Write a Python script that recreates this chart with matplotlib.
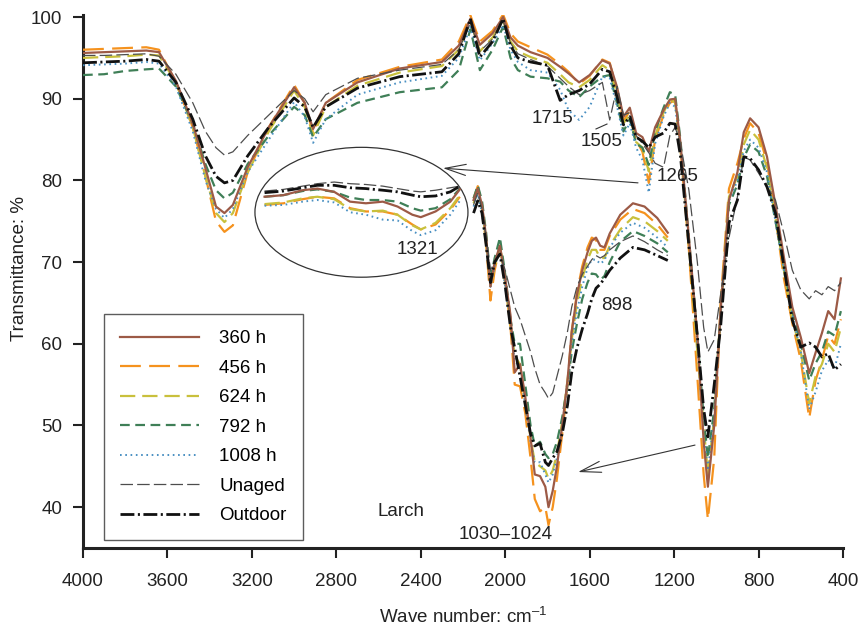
import matplotlib
matplotlib.use("Agg")
import matplotlib.pyplot as plt
from matplotlib.patches import Ellipse

plt.rcParams['font.family'] = ['Liberation Sans', 'DejaVu Sans']
plt.rcParams['lines.scale_dashes'] = False
plt.rcParams['mathtext.fontset'] = 'custom'
plt.rcParams['mathtext.rm'] = 'Liberation Sans'
plt.rcParams['mathtext.default'] = 'regular'

# ---------------- data ----------------
series_labels = ["360 h", "456 h", "624 h", "792 h", "1008 h", "Unaged", "Outdoor"]

wn_main = [4000, 3900, 3800, 3700, 3640, 3560, 3480, 3420, 3370, 3330, 3290, 3220, 3120,
           3000, 2950, 2910, 2850, 2700, 2500, 2300, 2220, 2165, 2120, 2060, 2010, 1975,
           1940, 1880, 1800, 1740, 1700, 1650, 1600, 1540, 1505, 1470, 1440, 1410, 1380,
           1350, 1320, 1290, 1250, 1220, 1195, 1170, 1130, 1090, 1060, 1040, 1010, 980,
           940, 900, 870, 840, 800, 760, 720, 680, 640, 600, 560, 530, 500, 470, 440, 410]

t360 = [95.6, 95.7, 95.8, 95.9, 95.7, 92.2, 87.0, 81.5, 76.8, 76.0, 77.0, 81.6, 86.5, 91.4,
        89.5, 86.3, 89.5, 92.0, 93.7, 94.5, 96.5, 99.8, 96.6, 98.0, 100.0, 97.5, 96.5, 95.7,
        95.0, 93.9, 93.1, 92.0, 92.9, 94.7, 94.3, 91.4, 87.8, 88.9, 85.8, 85.3, 83.5, 86.5,
        88.6, 89.9, 90.0, 84.6, 73.0, 61.0, 48.0, 42.5, 50.0, 64.0, 77.6, 81.0, 85.9, 87.6,
        86.5, 82.9, 77.0, 70.6, 64.5, 60.8, 56.4, 58.9, 61.3, 64.0, 63.0, 68.0]
t456 = [96.0, 96.1, 96.2, 96.3, 96.0, 92.0, 86.5, 80.5, 75.0, 73.7, 74.5, 81.0, 86.5, 91.7,
        89.5, 85.8, 89.5, 92.3, 93.9, 94.8, 97.0, 100.2, 97.0, 98.3, 100.3, 98.0, 97.0, 96.3,
        95.4, 94.2, 93.3, 91.8, 92.8, 94.8, 94.4, 91.0, 87.3, 88.5, 85.0, 83.5, 79.7, 85.0,
        88.0, 89.5, 89.8, 84.0, 71.5, 56.0, 44.0, 38.5, 46.0, 65.0, 79.0, 82.1, 85.1, 87.0,
        85.8, 82.2, 75.5, 68.0, 62.5, 58.0, 50.9, 55.5, 58.0, 61.0, 60.0, 63.0]
t624 = [95.0, 95.1, 95.2, 95.4, 95.3, 92.0, 86.5, 80.5, 76.0, 74.9, 76.0, 81.0, 86.0, 91.0,
        89.0, 85.5, 89.0, 91.6, 93.2, 94.0, 96.0, 99.5, 95.8, 97.5, 99.6, 97.0, 95.8, 95.1,
        94.4, 93.0, 92.0, 91.4, 92.3, 94.1, 93.5, 90.5, 87.0, 88.0, 84.7, 84.0, 81.1, 85.5,
        88.3, 90.0, 89.5, 84.0, 72.0, 59.0, 50.0, 44.0, 51.0, 64.0, 78.0, 80.5, 84.4, 86.2,
        85.0, 81.5, 75.5, 69.0, 63.0, 59.0, 52.7, 56.0, 57.5, 60.0, 59.0, 62.0]
t792 = [92.9, 93.0, 93.4, 93.6, 93.7, 91.5, 87.0, 82.0, 78.8, 77.8, 78.5, 82.0, 85.5, 89.0,
        88.0, 85.3, 87.5, 89.5, 90.8, 91.4, 93.5, 98.5, 93.5, 96.0, 98.8, 95.0, 93.5, 92.7,
        92.5, 92.1, 91.0, 90.2, 91.5, 92.7, 92.9, 89.4, 86.0, 87.5, 84.5, 84.0, 81.9, 86.0,
        88.9, 90.8, 90.5, 85.0, 73.0, 61.0, 51.0, 46.0, 52.0, 63.5, 77.0, 79.5, 82.8, 84.4,
        83.5, 80.5, 75.0, 69.5, 64.0, 60.0, 55.5, 57.6, 59.0, 61.5, 61.0, 64.0]
t1008 = [94.1, 94.2, 94.3, 94.5, 94.3, 91.5, 86.0, 80.0, 76.5, 75.4, 76.5, 81.0, 85.0, 89.6,
         87.8, 84.6, 87.5, 90.5, 92.0, 92.8, 95.0, 98.8, 94.7, 96.8, 99.0, 96.0, 94.5, 93.5,
         93.2, 91.1, 88.6, 87.4, 89.0, 92.7, 92.5, 89.0, 85.5, 87.0, 84.0, 82.5, 78.5, 84.5,
         87.8, 89.5, 89.0, 84.0, 72.5, 60.0, 49.0, 44.5, 51.0, 64.0, 77.5, 80.0, 83.6, 85.0,
         84.0, 81.0, 75.0, 69.0, 63.5, 59.0, 52.0, 54.1, 56.7, 58.0, 57.0, 60.0]
t_unaged = [95.3, 95.3, 95.4, 95.5, 95.2, 93.0, 89.5, 86.0, 84.0, 83.1, 83.5, 85.5, 88.0, 91.0,
            90.0, 88.4, 90.5, 92.5, 93.5, 94.2, 96.0, 99.3, 95.8, 97.3, 99.5, 96.8, 95.5, 94.8,
            94.0, 92.5, 91.5, 90.5, 91.0, 92.0, 87.4, 91.5, 88.0, 88.3, 85.5, 84.5, 83.4, 82.1,
            81.6, 85.5, 86.5, 84.5, 78.8, 70.0, 62.0, 59.0, 60.5, 66.0, 73.0, 78.0, 82.9, 82.5,
            80.9, 79.2, 77.6, 73.5, 69.0, 66.6, 65.5, 66.5, 66.0, 67.0, 66.5, 67.5]
t_outdoor = [94.4, 94.5, 94.6, 94.8, 94.6, 92.0, 87.5, 83.0, 80.5, 79.7, 80.0, 83.0, 86.5, 90.1,
             89.0, 86.5, 89.0, 91.3, 92.7, 93.3, 95.5, 99.8, 95.1, 97.0, 99.8, 96.5, 95.0, 94.5,
             94.1, 89.8, 90.5, 91.0, 91.8, 93.6, 93.3, 90.2, 86.8, 87.8, 85.3, 84.8, 84.0, 85.3,
             85.8, 87.0, 86.9, 83.0, 72.0, 61.0, 52.0, 48.6, 55.0, 62.0, 74.8, 77.6, 82.9, 82.7,
             81.3, 79.2, 76.0, 69.5, 62.9, 59.6, 60.1, 59.6, 58.4, 58.8, 56.8, 57.5]

# enlarged copy of the 1030-1024 band (drawn in the free space of the plot)
wn_zoom = [2150, 2130, 2110, 2090, 2070, 2050, 2025, 2000, 1975, 1955, 1930, 1905, 1880, 1860,
           1835, 1810, 1795, 1775, 1755, 1730, 1705, 1685, 1660, 1635, 1610, 1590, 1570, 1550,
           1530, 1505, 1455, 1395, 1340, 1280, 1230]
z360 = [77.6, 79.0, 77.0, 73.0, 67.0, 70.0, 72.0, 68.0, 63.5, 56.5, 57.5, 53.5, 48.5, 44.0,
        43.8, 42.5, 40.0, 42.0, 45.0, 50.0, 55.5, 61.5, 66.0, 69.0, 71.2, 72.6, 73.0, 72.0,
        71.8, 73.5, 75.8, 77.2, 76.8, 75.4, 73.6]
z456 = [77.8, 79.3, 77.0, 72.0, 65.3, 69.0, 72.0, 67.5, 62.0, 55.0, 54.8, 51.5, 46.0, 41.0,
        39.5, 40.0, 37.8, 40.0, 43.5, 49.0, 55.0, 61.5, 66.3, 69.5, 71.8, 73.0, 72.7, 71.5,
        71.5, 73.2, 75.2, 76.5, 76.0, 74.6, 73.0]
z624 = [77.2, 78.8, 76.5, 72.5, 67.0, 69.5, 72.0, 67.5, 62.5, 58.5, 57.5, 53.0, 48.5, 45.5,
        45.0, 44.5, 43.5, 44.5, 46.5, 50.5, 55.5, 60.5, 65.0, 68.0, 70.3, 71.5, 71.5, 70.5,
        70.5, 72.0, 74.0, 75.5, 75.0, 73.8, 72.6]
z792 = [77.8, 79.4, 77.5, 73.5, 68.0, 70.5, 73.0, 68.5, 63.0, 60.0, 60.0, 55.0, 50.0, 47.5,
        48.0, 46.5, 46.0, 46.5, 48.0, 51.0, 55.0, 59.0, 62.5, 65.5, 67.5, 68.6, 68.5, 67.8,
        68.3, 70.0, 72.5, 73.8, 73.2, 72.3, 71.2]
z1008 = [76.8, 78.3, 76.0, 72.0, 67.0, 69.5, 71.5, 67.0, 62.0, 58.0, 57.0, 52.5, 48.0, 45.5,
         45.5, 44.0, 43.0, 44.0, 46.0, 50.0, 55.0, 60.0, 64.0, 67.0, 69.3, 70.3, 70.3, 69.8,
         70.2, 71.8, 73.6, 74.8, 74.2, 73.0, 71.8]
z_unaged = [77.0, 78.5, 76.5, 73.0, 69.0, 70.0, 71.0, 69.0, 66.5, 64.5, 63.0, 61.0, 59.0, 57.0,
            55.0, 54.0, 53.3, 54.0, 56.0, 58.5, 61.5, 64.5, 67.0, 68.5, 69.5, 70.3, 70.8, 70.5,
            70.8, 71.5, 72.5, 73.2, 72.5, 71.5, 70.8]
z_outdoor = [76.0, 77.5, 76.0, 72.0, 67.5, 70.0, 71.0, 67.0, 62.0, 59.5, 56.0, 52.5, 49.0, 47.5,
             47.8, 45.5, 45.1, 46.0, 46.8, 49.0, 52.5, 56.5, 59.5, 61.8, 63.7, 65.5, 66.8, 67.3,
             68.0, 69.0, 70.5, 71.8, 71.5, 70.8, 70.2]

# enlarged copy of the 1321 band (inside the ellipse)
wn_ell = [3140, 3050, 2960, 2890, 2810, 2735, 2660, 2580, 2510, 2440, 2400, 2330, 2260, 2215]
e360 = [78.0, 78.2, 78.8, 79.0, 78.6, 77.4, 77.2, 77.4, 76.8, 75.8, 75.5, 76.2, 77.4, 78.9]
e456 = [77.0, 77.2, 77.7, 78.0, 77.8, 76.6, 76.2, 76.2, 75.8, 74.6, 74.0, 74.6, 76.4, 78.0]
e624 = [77.1, 77.3, 77.8, 78.0, 77.7, 76.5, 76.2, 76.3, 75.8, 74.5, 74.0, 74.8, 76.6, 78.2]
e792 = [78.0, 78.2, 78.7, 78.9, 78.6, 77.9, 77.6, 77.6, 77.4, 76.6, 76.3, 76.6, 77.7, 79.0]
e1008 = [76.9, 77.0, 77.4, 77.6, 77.3, 76.1, 75.8, 75.2, 75.1, 73.8, 73.3, 73.9, 75.8, 77.5]
e_unaged = [78.7, 78.9, 79.3, 79.6, 79.8, 79.6, 79.5, 79.3, 79.0, 78.7, 78.6, 78.8, 79.1, 79.3]
e_outdoor = [78.5, 78.7, 79.1, 79.4, 79.4, 79.1, 79.0, 78.8, 78.6, 78.2, 78.0, 78.1, 78.6, 79.3]

x_ticks = [4000, 3600, 3200, 2800, 2400, 2000, 1600, 1200, 800, 400]
y_ticks = [40, 50, 60, 70, 80, 90, 100]

peak_labels = ["1715", "1505", "1265", "898", "1030\u20131024", "1321", "Larch"]
peak_pos = [(1778, 87.6), (1542, 84.8), (1186, 80.5), (1470, 64.7), (1996, 36.6),
            (2418, 71.5), (2494, 39.5)]

# ---------------- styles ----------------
styles = [
    dict(color='#9C5A46', lw=1.6, ls='-'),
    dict(color='#F5921E', lw=1.6, dashes=(15, 6)),
    dict(color='#C9C03C', lw=1.6, dashes=(11, 5)),
    dict(color='#3F7F57', lw=1.6, dashes=(7, 4)),
    dict(color='#4A90C2', lw=1.4, dashes=(1.2, 2.6)),
    dict(color='#4D4D4D', lw=0.9, dashes=(9, 3)),
    dict(color='#111111', lw=2.0, dashes=(10, 2.5, 1.5, 2.5)),
]
zorders = [4, 3, 3, 3, 3, 5, 6]

main_sets = [t360, t456, t624, t792, t1008, t_unaged, t_outdoor]
zoom_sets = [z360, z456, z624, z792, z1008, z_unaged, z_outdoor]
ell_sets = [e360, e456, e624, e792, e1008, e_unaged, e_outdoor]

fig = plt.figure(figsize=(8.6, 6.25), dpi=100)
ax = fig.add_axes([83 / 860, 77 / 625, 760 / 860, 533 / 625])

handles = []
for lab, st, z, ym, yz, ye in zip(series_labels, styles, zorders, main_sets, zoom_sets, ell_sets):
    h, = ax.plot(wn_main, ym, label=lab, zorder=z, **st)
    ax.plot(wn_zoom, yz, zorder=z, **st)
    ax.plot(wn_ell, ye, zorder=z, **st)
    handles.append(h)

ax.add_patch(Ellipse((2681, 76.1), 1009, 15.9, fill=False, lw=0.9, ec='#333333', zorder=2))

arrow_kw = dict(arrowstyle='->,head_length=1.5,head_width=0.4', lw=0.8, color='#333333',
                shrinkA=0, shrinkB=0)
ax.annotate('', xy=(2295, 81.5), xytext=(1371, 79.7), arrowprops=arrow_kw)
ax.annotate('', xy=(1655, 44.3), xytext=(1101, 47.6), arrowprops=arrow_kw)
ax.plot([1570, 1518], [86.3, 86.9], color='#333333', lw=0.8)

for txt, (px, py) in zip(peak_labels, peak_pos):
    ax.text(px, py, txt, fontsize=13.5, ha='center', va='center', color='#222222', zorder=8)

ax.set_xlim(4000, 400)
ax.set_ylim(35, 100.25)
ax.set_xticks(x_ticks)
ax.set_yticks(y_ticks)
ax.tick_params(direction='out', length=7, width=1.5, labelsize=13.5, colors='#222222')
ax.tick_params(axis='y', pad=8)
ax.tick_params(axis='x', pad=11)
for s in ['top', 'right']:
    ax.spines[s].set_visible(False)
for s in ['left', 'bottom']:
    ax.spines[s].set_linewidth(2.2)
    ax.spines[s].set_color('#222222')

ax.set_ylabel('Transmittance: %', fontsize=13.5, color='#222222')
ax.yaxis.set_label_coords(-0.072, 0.525)
ax.set_xlabel('Wave number: cm$^{\u20131}$', fontsize=13.5, color='#222222')
ax.xaxis.set_label_coords(0.5, -0.11)

leg = ax.legend(handles=handles, loc='upper left', bbox_to_anchor=(0.0276, 0.439),
                borderaxespad=0, fontsize=13.5, handlelength=4.2, handletextpad=1.1,
                labelspacing=0.66, borderpad=0.85, fancybox=False, frameon=True)
leg.get_frame().set_edgecolor('#333333')
leg.get_frame().set_linewidth(1.0)

fig.savefig('out.png', dpi=100)
